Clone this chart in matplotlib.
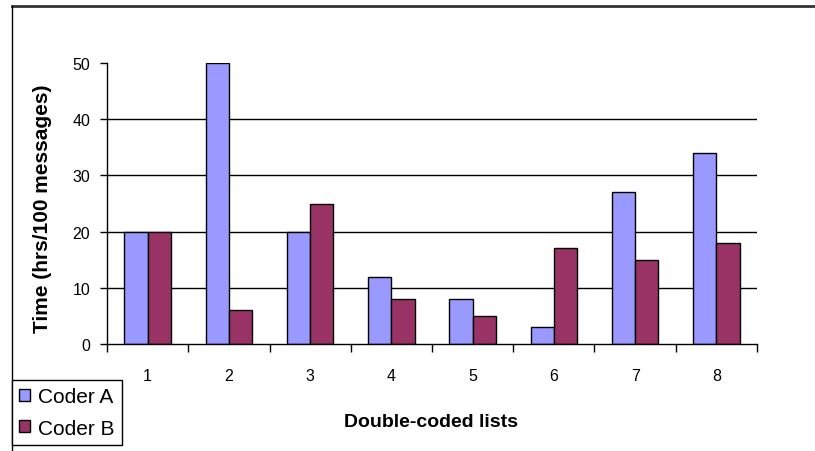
import matplotlib
matplotlib.use("Agg")
import matplotlib.pyplot as plt
from matplotlib.lines import Line2D
import numpy as np

plt.rcParams['font.family'] = ['Liberation Sans', 'DejaVu Sans']

lists = ["1", "2", "3", "4", "5", "6", "7", "8"]
coderA = [20, 50, 20, 12, 8, 3, 27, 34]
coderB = [20, 6, 25, 8, 5, 17, 15, 18]
yticks = [0, 10, 20, 30, 40, 50]

fig = plt.figure(figsize=(8.15, 4.52), dpi=100)
ax = fig.add_axes([0.1313, 0.2367, 0.7975, 0.6217])

x = np.arange(len(lists))
w = 0.285
ax.bar(x - w / 2, coderA, w, color='#9999FF', edgecolor='black', linewidth=1, label='Coder A')
ax.bar(x + w / 2, coderB, w, color='#993366', edgecolor='black', linewidth=1, label='Coder B')

ax.set_xlim(-0.5, len(lists) - 0.5)
ax.set_ylim(0, 50)
ax.set_yticks(yticks)
ax.set_axisbelow(True)
ax.yaxis.grid(True, color='black', linewidth=1)
grid = ax.get_ygridlines()
grid[0].set_visible(False)
grid[-1].set_visible(False)

# category labels at centers, tick marks at the boundaries
ax.set_xticks(x)
ax.set_xticklabels(lists)
ax.set_xticks(np.arange(len(lists) + 1) - 0.5, minor=True)
ax.tick_params(axis='x', which='major', length=0, pad=17, labelsize=11.5)
ax.tick_params(axis='x', which='minor', length=5.5, width=1, direction='out')
ax.tick_params(axis='y', length=5, width=1, direction='out', pad=7, labelsize=11.5)

for s in ['top', 'right']:
    ax.spines[s].set_visible(False)
for s in ['left', 'bottom']:
    ax.spines[s].set_linewidth(1)

ax.set_ylabel("Time (hrs/100 messages)", fontsize=15, fontweight='bold')
ax.yaxis.set_label_coords(-0.0846, 0.485)
ax.set_xlabel("Double-coded lists", fontsize=14, fontweight='bold')
ax.xaxis.set_label_coords(0.499, -0.2456)

fig.legend(loc='lower left', bbox_to_anchor=(0.0147, 0.0133), bbox_transform=fig.transFigure,
           borderaxespad=0, fancybox=False, edgecolor='black', framealpha=1,
           fontsize=15, handlelength=0.5, handleheight=0.5, handletextpad=0.4,
           labelspacing=0.6, borderpad=0.35)

# outer frame lines
fig.add_artist(Line2D([12 / 815, 1], [1 - 7 / 452, 1 - 7 / 452], color='#333333', linewidth=2,
                      transform=fig.transFigure))
fig.add_artist(Line2D([12 / 815, 12 / 815], [0, 1 - 7 / 452], color='black', linewidth=1,
                      transform=fig.transFigure))

fig.savefig("out.png", dpi=100)
